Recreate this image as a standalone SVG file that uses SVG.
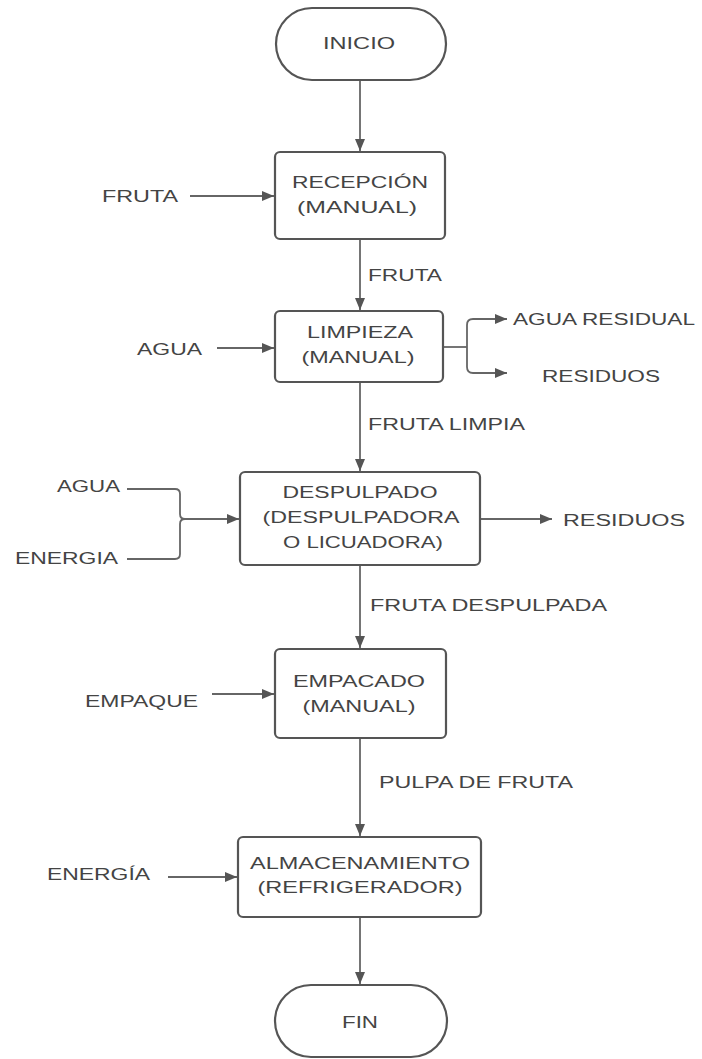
<svg xmlns="http://www.w3.org/2000/svg" width="702" height="1059" viewBox="0 0 702 1059">
  <style>
    .shape { fill: #ffffff; stroke: #555555; stroke-width: 2.2; }
    .conn { fill: none; stroke: #666666; stroke-width: 1.8; }
    text { font-family: "Liberation Sans", Arial, sans-serif; font-size: 16px; fill: #444444; }
    .c { text-anchor: middle; }
  </style>
  <defs>
    <marker id="arrow" viewBox="0 0 12 10" refX="12" refY="5" markerWidth="12" markerHeight="10" markerUnits="userSpaceOnUse" orient="auto">
      <path d="M0,0 L12,5 L0,10 Z" fill="#555555"/>
    </marker>
  </defs>
  <rect width="702" height="1059" fill="#ffffff"/>

  <!-- connectors -->
  <g id="connectors">
    <path class="conn" d="M360,80 V151" marker-end="url(#arrow)"/>
    <path class="conn" d="M190,196 H274" marker-end="url(#arrow)"/>
    <path class="conn" d="M360,239 V310" marker-end="url(#arrow)"/>
    <path class="conn" d="M217,348 H274" marker-end="url(#arrow)"/>
    <path class="conn" d="M443,347 H467"/>
    <path class="conn" d="M467,347 V325 Q467,319 473,319 H507" marker-end="url(#arrow)"/>
    <path class="conn" d="M467,347 V367 Q467,373 473,373 H507" marker-end="url(#arrow)"/>
    <path class="conn" d="M360,382 V471" marker-end="url(#arrow)"/>
    <path class="conn" d="M127,489 H175 Q180,489 180,494 V514 Q180,519 185,519"/>
    <path class="conn" d="M127,559 H175 Q180,559 180,554 V524 Q180,519 185,519"/>
    <path class="conn" d="M185,519 H239" marker-end="url(#arrow)"/>
    <path class="conn" d="M480,519 H552" marker-end="url(#arrow)"/>
    <path class="conn" d="M360,565 V648" marker-end="url(#arrow)"/>
    <path class="conn" d="M212,694 H274" marker-end="url(#arrow)"/>
    <path class="conn" d="M360,738 V836" marker-end="url(#arrow)"/>
    <path class="conn" d="M168,877 H237" marker-end="url(#arrow)"/>
    <path class="conn" d="M360,917 V984" marker-end="url(#arrow)"/>
  </g>

  <!-- flow labels -->
  <g id="labels">
    <text x="102" y="202" textLength="76" lengthAdjust="spacingAndGlyphs">FRUTA</text>
    <text x="368" y="281" textLength="74" lengthAdjust="spacingAndGlyphs">FRUTA</text>
    <text x="137" y="355" textLength="65" lengthAdjust="spacingAndGlyphs">AGUA</text>
    <text x="513" y="325" textLength="182" lengthAdjust="spacingAndGlyphs">AGUA RESIDUAL</text>
    <text x="542" y="382" textLength="118" lengthAdjust="spacingAndGlyphs">RESIDUOS</text>
    <text x="368" y="430" textLength="157" lengthAdjust="spacingAndGlyphs">FRUTA LIMPIA</text>
    <text x="57" y="492" textLength="63" lengthAdjust="spacingAndGlyphs">AGUA</text>
    <text x="15" y="564" textLength="103" lengthAdjust="spacingAndGlyphs">ENERGIA</text>
    <text x="563" y="526" textLength="122" lengthAdjust="spacingAndGlyphs">RESIDUOS</text>
    <text x="370" y="611" textLength="237" lengthAdjust="spacingAndGlyphs">FRUTA DESPULPADA</text>
    <text x="85" y="707" textLength="113" lengthAdjust="spacingAndGlyphs">EMPAQUE</text>
    <text x="379" y="788" textLength="194" lengthAdjust="spacingAndGlyphs">PULPA DE FRUTA</text>
    <text x="47" y="880" textLength="103" lengthAdjust="spacingAndGlyphs">ENERGÍA</text>
  </g>

  <!-- nodes -->
  <g id="inicio">
    <rect class="shape" x="276" y="8" width="170" height="72" rx="36" ry="36"/>
    <text class="c" x="359" y="49" textLength="72" lengthAdjust="spacingAndGlyphs">INICIO</text>
  </g>
  <g id="recepcion">
    <rect class="shape" x="275" y="152" width="170" height="87" rx="5" ry="5"/>
    <text class="c" x="360" y="188" textLength="136" lengthAdjust="spacingAndGlyphs">RECEPCIÓN</text>
    <text class="c" x="357" y="213" textLength="120" lengthAdjust="spacingAndGlyphs">(MANUAL)</text>
  </g>
  <g id="limpieza">
    <rect class="shape" x="275" y="311" width="168" height="71" rx="5" ry="5"/>
    <text class="c" x="360" y="338" textLength="106" lengthAdjust="spacingAndGlyphs">LIMPIEZA</text>
    <text class="c" x="358" y="363" textLength="113" lengthAdjust="spacingAndGlyphs">(MANUAL)</text>
  </g>
  <g id="despulpado">
    <rect class="shape" x="240" y="472" width="240" height="93" rx="5" ry="5"/>
    <text class="c" x="360" y="498" textLength="155" lengthAdjust="spacingAndGlyphs">DESPULPADO</text>
    <text class="c" x="361" y="523" textLength="197" lengthAdjust="spacingAndGlyphs">(DESPULPADORA</text>
    <text class="c" x="363" y="548" textLength="160" lengthAdjust="spacingAndGlyphs">O LICUADORA)</text>
  </g>
  <g id="empacado">
    <rect class="shape" x="275" y="649" width="171" height="89" rx="5" ry="5"/>
    <text class="c" x="359" y="687" textLength="132" lengthAdjust="spacingAndGlyphs">EMPACADO</text>
    <text class="c" x="359" y="712" textLength="113" lengthAdjust="spacingAndGlyphs">(MANUAL)</text>
  </g>
  <g id="almacenamiento">
    <rect class="shape" x="238" y="837" width="243" height="80" rx="5" ry="5"/>
    <text class="c" x="360" y="869" textLength="220" lengthAdjust="spacingAndGlyphs">ALMACENAMIENTO</text>
    <text class="c" x="360" y="893" textLength="205" lengthAdjust="spacingAndGlyphs">(REFRIGERADOR)</text>
  </g>
  <g id="fin">
    <rect class="shape" x="275" y="985" width="172" height="72" rx="36" ry="36"/>
    <text class="c" x="360" y="1028" textLength="36" lengthAdjust="spacingAndGlyphs">FIN</text>
  </g>
</svg>
